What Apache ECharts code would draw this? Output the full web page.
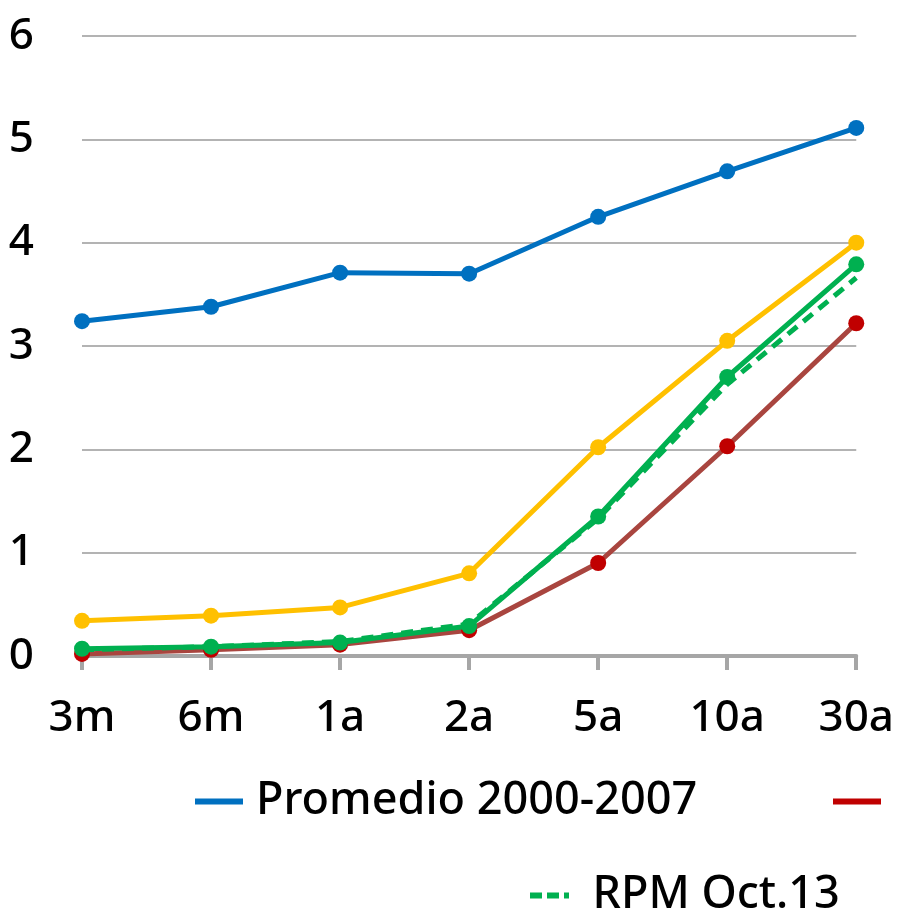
<!DOCTYPE html>
<html>
<head>
<meta charset="utf-8">
<script src="https://cdn.jsdelivr.net/npm/echarts@6/dist/echarts.min.js"></script>
<style>html,body{margin:0;padding:0;background:#fff}#c{width:897px;height:916px}</style>
</head>
<body>
<div id="c"></div>
<script>
const categories = ['3m','6m','1a','2a','5a','10a','30a'];
const yTicks = [0,1,2,3,4,5,6];
const promedio = [3.24, 3.38, 3.71, 3.70, 4.25, 4.69, 5.11];
const rojo = [0.02, 0.06, 0.11, 0.25, 0.90, 2.03, 3.22];
const amarillo = [0.34, 0.39, 0.47, 0.80, 2.02, 3.05, 4.00];
const verde = [0.07, 0.09, 0.13, 0.29, 1.35, 2.70, 3.79];
const rpm = [0.06, 0.09, 0.14, 0.31, 1.33, 2.63, 3.66];
const names = ['Promedio 2000-2007', 'Mínimo', 'Máximo', 'Actual', 'RPM Oct.13'];

const FONT = 'Noto Sans';
const chart = echarts.init(document.getElementById('c'), null, {renderer: 'canvas'});
const dashIcon = 'path://M0,0h12v6h-12z M17,0h12v6h-12z M34,0h5v6h-5z';
const legendText = {fontFamily: FONT, fontSize: 45, fontWeight: 500, color: '#000'};
chart.setOption({
  animation: false,
  backgroundColor: '#fff',
  grid: {left: 82, right: 40, top: 36, bottom: 260, containLabel: false},
  legend: [
    {
      left: 195, top: 779, orient: 'horizontal', padding: 0,
      itemWidth: 48, itemHeight: 6,
      textStyle: Object.assign({padding: [0,0,0,8]}, legendText),
      data: [{name: names[0], icon: 'rect'}]
    },
    {
      left: 833, top: 779, orient: 'horizontal', width: 600, padding: 0,
      itemWidth: 48, itemHeight: 6,
      textStyle: Object.assign({padding: [0,0,0,18]}, legendText),
      data: [{name: names[1], icon: 'rect', itemStyle: {color: '#c00000'}}]
    },
    {
      left: 530, top: 873, orient: 'horizontal', padding: 0,
      itemWidth: 48, itemHeight: 6,
      textStyle: Object.assign({padding: [0,0,0,14]}, legendText),
      data: [{name: names[4], icon: dashIcon}]
    }
  ],
  xAxis: {
    type: 'category', data: categories, boundaryGap: false,
    axisLine: {lineStyle: {color: '#a6a6a6', width: 4}},
    axisTick: {show: true, length: 14, lineStyle: {color: '#a6a6a6', width: 4}, alignWithLabel: true},
    axisLabel: {fontFamily: FONT, fontSize: 44, fontWeight: 500, color: '#000', margin: 40},
    splitLine: {show: false}
  },
  yAxis: {
    type: 'value', min: yTicks[0], max: yTicks[yTicks.length-1], interval: 1,
    axisLine: {show: false}, axisTick: {show: false},
    axisLabel: {fontFamily: FONT, fontSize: 44, fontWeight: 500, color: '#000', margin: 48},
    splitLine: {lineStyle: {color: '#b3b3b3', width: 2}}
  },
  series: [
    {name: names[0], type: 'line', data: promedio, color: '#0070c0', lineStyle: {width: 5, color: '#0070c0'}, symbol: 'circle', symbolSize: 16, itemStyle: {color: '#0070c0'}, z: 3},
    {name: names[1], type: 'line', data: rojo, color: '#c00000', lineStyle: {width: 5, color: '#a9453f'}, symbol: 'circle', symbolSize: 16, itemStyle: {color: '#c00000'}, z: 2},
    {name: names[2], type: 'line', data: amarillo, color: '#ffc000', lineStyle: {width: 5, color: '#ffc000'}, symbol: 'circle', symbolSize: 16, itemStyle: {color: '#ffc000'}, z: 3},
    {name: names[4], type: 'line', data: rpm, color: '#00b050', lineStyle: {width: 5, color: '#00b050', type: [12, 8]}, symbol: 'none', z: 4},
    {name: names[3], type: 'line', data: verde, color: '#00b050', lineStyle: {width: 5, color: '#00b050'}, symbol: 'circle', symbolSize: 16, itemStyle: {color: '#00b050'}, z: 5}
  ]
});
</script>
</body>
</html>
